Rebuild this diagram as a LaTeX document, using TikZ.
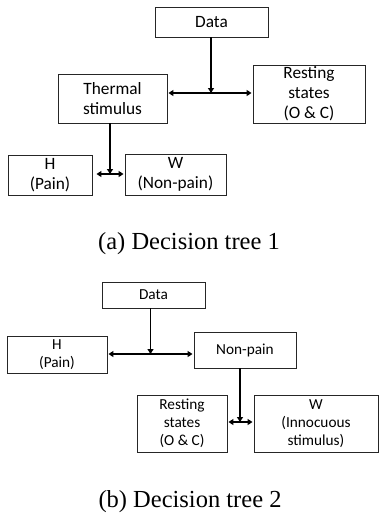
\documentclass[tikz,border=0pt]{standalone}
\usepackage{fontspec}
\setmainfont{Liberation Serif}
\newfontfamily\boxfont{Carlito}
\usetikzlibrary{arrows.meta}
\tikzset{
  boxA/.style={draw=black!85, line width=0.9pt, rectangle, inner sep=0pt, align=center,
    font=\boxfont\fontsize{17.3}{20}\selectfont},
  boxB/.style={draw=black!85, line width=0.9pt, rectangle, inner sep=0pt, align=center,
    font=\boxfont\fontsize{15.3}{18}\selectfont},
  conn/.style={line width=1.8pt, -{Triangle[length=5pt,width=6pt]}},
  dconn/.style={line width=1.8pt, {Triangle[length=5pt,width=6pt]}-{Triangle[length=5pt,width=6pt]}},
  capt/.style={font=\fontsize{24.5}{28}\selectfont, anchor=base, inner sep=0pt}
}
\begin{document}
\begin{tikzpicture}[x=1pt,y=-1pt]
\useasboundingbox (0,0) rectangle (380,514);
% (a)
\node[boxA, minimum width=113pt, minimum height=30pt] (dataA) at (211.5,22) {Data};
\node[boxA, minimum width=109pt, minimum height=49pt] (thermA) at (112.5,98.5) {Thermal\\stimulus};
\node[boxA, minimum width=112pt, minimum height=58pt] (restA) at (309,94) {Resting\\states\\(O \& C)};
\node[boxA, minimum width=84pt, minimum height=40pt] (hA) at (50,175) {H\\(Pain)};
\node[boxA, minimum width=101pt, minimum height=41pt] (wA) at (175.5,174.5) {W\\(Non-pain)};
\coordinate (jA) at (211,93);
\coordinate (jA2) at (110,174);
\draw[conn] (dataA.south -| jA) -- (jA);
\draw[dconn] ([xshift=1pt]thermA.east |- jA) -- ([xshift=-1pt]restA.west |- jA);
\draw[conn] (thermA.south -| jA2) -- (jA2);
\draw[dconn] ([xshift=4pt]hA.east |- jA2) -- ([xshift=-1pt]wA.west |- jA2);
\node[capt] (capA) at (189,249) {(a) Decision tree 1};
% (b)
\node[boxB, minimum width=103pt, minimum height=26pt] (dataB) at (153.5,295) {Data};
\node[boxB, minimum width=100pt, minimum height=37pt] (hB) at (57,354.5) {H\\(Pain)};
\node[boxB, minimum width=102pt, minimum height=36pt] (nonB) at (245,350) {Non-pain};
\node[boxB, minimum width=90pt, minimum height=57pt] (restB) at (182,423.5) {Resting\\states\\(O \& C)};
\node[boxB, minimum width=124pt, minimum height=57pt] (wB) at (316,423.5) {W\\(Innocuous\\stimulus)};
\coordinate (jB) at (150.5,354);
\coordinate (jB2) at (240,422);
\draw[conn] (dataB.south -| jB) -- (jB);
\draw[dconn] ([xshift=1pt]hB.east |- jB) -- ([xshift=-1pt]nonB.west |- jB);
\draw[conn] (nonB.south -| jB2) -- (jB2);
\draw[dconn] ([xshift=1pt]restB.east |- jB2) -- ([xshift=-1pt]wB.west |- jB2);
\node[capt] (capB) at (190,507) {(b) Decision tree 2};
\end{tikzpicture}
\end{document}
